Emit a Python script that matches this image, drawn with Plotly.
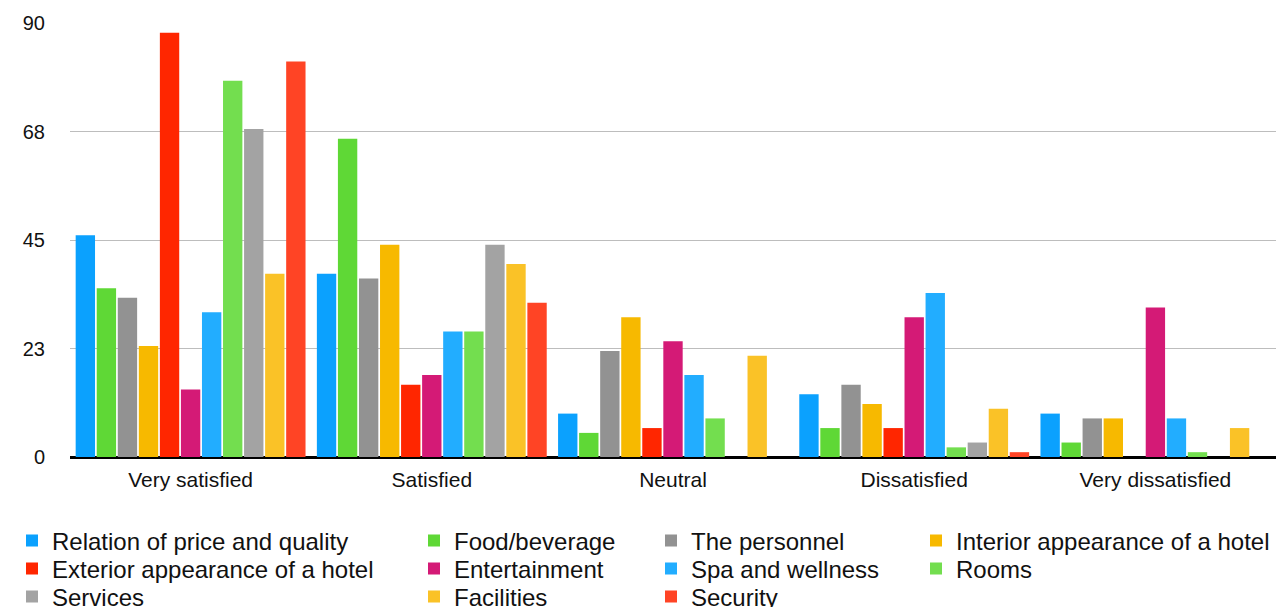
import plotly.graph_objects as go

categories = ["Very satisfied", "Satisfied", "Neutral", "Dissatisfied", "Very dissatisfied"]

relation_price_quality = [46, 38, 9, 13, 9]
food_beverage = [35, 66, 5, 6, 3]
the_personnel = [33, 37, 22, 15, 8]
interior_appearance = [23, 44, 29, 11, 8]
exterior_appearance = [88, 15, 6, 6, 0]
entertainment = [14, 17, 24, 29, 31]
spa_wellness = [30, 26, 17, 34, 8]
rooms = [78, 26, 8, 2, 1]
services = [68, 44, 0, 3, 0]
facilities = [38, 40, 21, 10, 6]
security = [82, 32, 0, 1, 0]

tick_values = [0, 22.5, 45, 67.5, 90]
tick_labels = ["0", "23", "45", "68", "90"]

series = [
    ("Relation of price and quality", relation_price_quality, "#0ba1fe"),
    ("Food/beverage", food_beverage, "#5fd836"),
    ("The personnel", the_personnel, "#929292"),
    ("Interior appearance of a hotel", interior_appearance, "#f7b900"),
    ("Exterior appearance of a hotel", exterior_appearance, "#ff2600"),
    ("Entertainment", entertainment, "#d41a76"),
    ("Spa and wellness", spa_wellness, "#22adff"),
    ("Rooms", rooms, "#73de4f"),
    ("Services", services, "#a3a3a3"),
    ("Facilities", facilities, "#fac227"),
    ("Security", security, "#ff4425"),
]

# page is offset by the default 8px body margin
OFF = 8
# legend placement (page pixel positions of text start / row centre)
col_text_x = [53, 455, 692, 957]
row_y = [541, 569, 597]
TEXT_OFFSET = 41

W, H = 1286 - OFF, 607 - OFF
ML, MT = 70 - OFF, 23 - OFF
PLOT_RIGHT, PLOT_BOTTOM = 1276 - OFF, 457 - OFF
MR, MB = W - PLOT_RIGHT, H - PLOT_BOTTOM
PW = W - ML - MR
PH = H - MT - MB

fig = go.Figure()
legend_layouts = {}
for i, (name, vals, color) in enumerate(series):
    key = "legend" if i == 0 else f"legend{i + 1}"
    fig.add_trace(go.Bar(
        name=name, x=categories, y=vals,
        marker=dict(color=color, line=dict(width=0)),
        legend=key, showlegend=True,
    ))
    r, c = divmod(i, 4)
    px = col_text_x[c] - OFF - TEXT_OFFSET
    py = row_y[r] - OFF
    legend_layouts[key] = dict(
        x=(px - ML) / PW, y=(H - MB - py) / PH,
        xanchor="left", yanchor="middle",
        bgcolor="rgba(0,0,0,0)", borderwidth=0,
        font=dict(family="Liberation Sans, Arial, sans-serif", size=24, color="#111111"),
        itemclick=False, visible=True,
    )

fig.update_layout(
    width=W, height=H,
    margin=dict(l=ML, r=MR, t=MT, b=MB, autoexpand=False),
    paper_bgcolor="white", plot_bgcolor="white",
    showlegend=True,
    barmode="group", bargap=0.04, bargroupgap=0.08,
    font=dict(family="Liberation Sans, Arial, sans-serif", color="#111111"),
    xaxis=dict(
        showgrid=False, showline=False, ticks="",
        tickfont=dict(size=21, color="#111111"),
        ticklabelstandoff=8,
    ),
    yaxis=dict(
        range=[0, 90], tickvals=tick_values, ticktext=tick_labels,
        showgrid=True, gridcolor="#bdbdbd", gridwidth=1,
        zeroline=True, zerolinecolor="#000000", zerolinewidth=2.5,
        showline=False, ticks="",
        tickfont=dict(size=20, color="#111111"),
        ticklabelstandoff=24,
    ),
    **legend_layouts,
)

fig.write_html("out.html")
